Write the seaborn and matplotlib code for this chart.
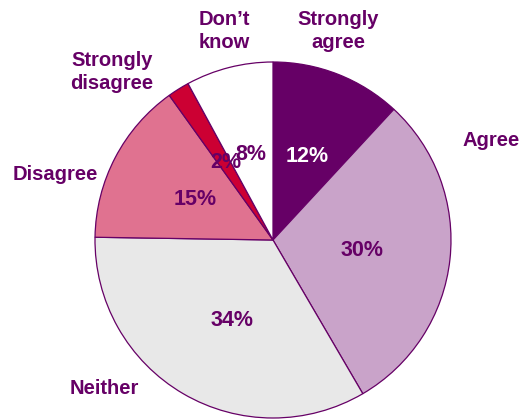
import matplotlib
matplotlib.use("Agg")
import matplotlib.pyplot as plt
import seaborn as sns

# Survey response shares (percent)
categories = ["Strongly agree", "Agree", "Neither", "Disagree", "Strongly disagree", "Don't know"]
values = [12, 30, 34, 15, 2, 8]
outer_labels = ["Strongly\nagree", "Agree", "Neither", "Disagree", "Strongly\ndisagree", "Don\u2019t\nknow"]

slice_colors = ["#660066", "#C9A3C9", "#E8E8E8", "#E07290", "#CC0033", "#FFFFFF"]
pct_colors = ["#FFFFFF", "#660066", "#660066", "#660066", "#660066", "#660066"]
text_purple = "#660066"

sns.set_theme(style="white")
plt.rcParams["font.family"] = ["Liberation Sans", "DejaVu Sans"]

fig = plt.figure(figsize=(5.22, 4.19), dpi=100)
ax = fig.add_axes([0, 0, 1, 1])

cx, cy, r = 273, 179, 178
ax.pie(values, colors=slice_colors, startangle=90, counterclock=False,
       center=(cx, cy), radius=r, frame=True,
       wedgeprops=dict(edgecolor=text_purple, linewidth=0.9))
ax.set_xlim(0, 522)
ax.set_ylim(0, 419)
ax.set_aspect("equal")
ax.axis("off")

# label placement, offsets from the pie centre in pixels
outer_pos = [(65, 209), (218, 100), (-169, -149), (-218, 65), (-161, 168), (-49, 209)]
pct_pos = [(34, 83), (89, -10), (-41, -80), (-78, 40), (-47, 77), (-22, 85)]

for lab, (dx, dy) in zip(outer_labels, outer_pos):
    ax.text(cx + dx, cy + dy, lab, ha="center", va="center", color=text_purple,
            fontsize=14.5, fontweight="bold", linespacing=1.25)

for v, c, (dx, dy) in zip(values, pct_colors, pct_pos):
    ax.text(cx + dx, cy + dy, f"{v}%", ha="center", va="center", color=c,
            fontsize=15.5, fontweight="bold")

fig.savefig("out.png", dpi=100)
